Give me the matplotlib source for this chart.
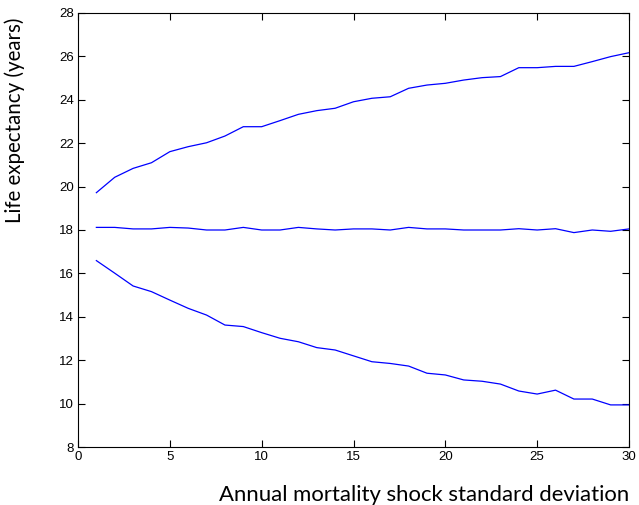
import matplotlib
matplotlib.use("Agg")
import matplotlib.pyplot as plt

x = list(range(1, 31))
upper = [19.72, 20.43, 20.84, 21.10, 21.61, 21.84, 22.02, 22.33, 22.76, 22.76,
         23.04, 23.33, 23.50, 23.61, 23.91, 24.07, 24.14, 24.53, 24.68, 24.76,
         24.91, 25.02, 25.07, 25.48, 25.48, 25.54, 25.54, 25.76, 25.99, 26.17]
middle = [18.12, 18.12, 18.05, 18.05, 18.12, 18.09, 18.00, 18.00, 18.12, 18.00,
          18.00, 18.12, 18.05, 18.00, 18.05, 18.05, 18.00, 18.12, 18.05, 18.05,
          18.00, 18.00, 18.00, 18.06, 18.00, 18.06, 17.88, 18.00, 17.94, 18.05]
lower = [16.59, 16.01, 15.42, 15.16, 14.77, 14.39, 14.08, 13.62, 13.55, 13.27,
         13.01, 12.85, 12.58, 12.47, 12.20, 11.93, 11.85, 11.73, 11.40, 11.32,
         11.09, 11.03, 10.90, 10.58, 10.44, 10.62, 10.21, 10.21, 9.94, 9.94]
xticks = [0, 5, 10, 15, 20, 25, 30]
yticks = [8, 10, 12, 14, 16, 18, 20, 22, 24, 26, 28]
xlabel = "Annual mortality shock standard deviation"
ylabel = "Life expectancy (years)"

fig = plt.figure(figsize=(6.39, 5.05), dpi=100)
ax = fig.add_axes([78/639, 1-447/505, (629-78)/639, (447-13)/505])
for s in (upper, middle, lower):
    ax.plot(x, s, color="#0000ff", lw=0.9)
ax.set_xlim(0, 30)
ax.set_ylim(8, 28)
ax.set_xticks(xticks)
ax.set_yticks(yticks)
ax.tick_params(direction="in", top=True, right=True, length=5, width=0.8,
               labelsize=9.5, pad=3)
for lab in ax.get_xticklabels() + ax.get_yticklabels():
    lab.set_family("Liberation Sans")
for sp in ax.spines.values():
    sp.set_linewidth(0.8)

fig.text(629/639, 1-501/505, xlabel, ha="right", va="baseline",
         fontsize=15.9, family="Lato")
fig.text(15/639, 1-120/505, ylabel, ha="center", va="center", rotation=90,
         fontsize=14.8, family="Lato")

fig.savefig("out.png", dpi=100)
